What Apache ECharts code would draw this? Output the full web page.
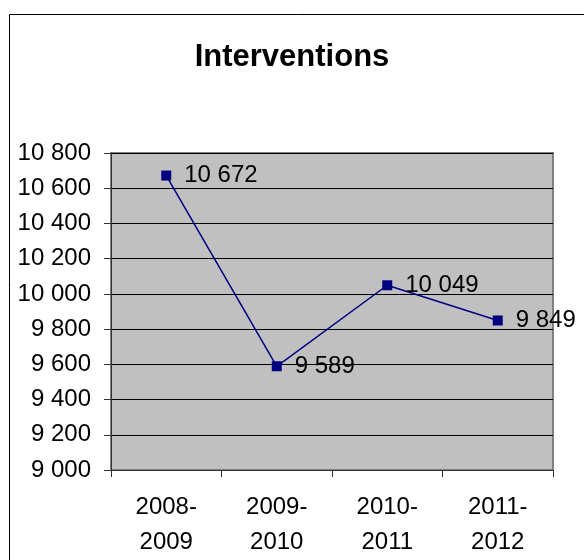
<!DOCTYPE html>
<html>
<head>
<meta charset="utf-8">
<script src="https://cdn.jsdelivr.net/npm/echarts@6/dist/echarts.min.js"></script>
<style>
  html, body { margin: 0; padding: 0; background: #fff; }
  #chart { width: 584px; height: 560px; }
</style>
</head>
<body>
<div id="chart"></div>
<script>
const categories = ['2008-\n2009', '2009-\n2010', '2010-\n2011', '2011-\n2012'];
const interventions = [10672, 9589, 10049, 9849];
const yMin = 9000;
const yMax = 10800;
const yStep = 200;

const fmt = function (v) {
  return String(v).replace(/\B(?=(\d{3})+(?!\d))/g, ' ');
};

const chart = echarts.init(document.getElementById('chart'));
const font = 'Liberation Sans, Arial, sans-serif';

const option = {
  animation: false,
  backgroundColor: '#fff',
  title: {
    text: 'Interventions',
    left: 'center',
    top: 37,
    textStyle: { fontFamily: font, fontSize: 31, fontWeight: 'bold', color: '#000' }
  },
  graphic: [
    {
      type: 'rect',
      shape: { x: 9.5, y: 14.5, width: 700, height: 700 },
      style: { fill: 'none', stroke: '#000', lineWidth: 1 },
      z: -1
    }
  ],
  grid: {
    left: 111,
    top: 153,
    right: 31,
    bottom: 87,
    show: true,
    backgroundColor: '#c0c0c0',
    borderColor: '#808080',
    borderWidth: 2
  },
  xAxis: {
    type: 'category',
    data: categories,
    boundaryGap: true,
    axisLine: { lineStyle: { color: '#333', width: 1 } },
    axisTick: { show: true, length: 7, lineStyle: { color: '#333' } },
    axisLabel: {
      fontFamily: font,
      fontSize: 24,
      color: '#000',
      lineHeight: 35,
      margin: 20
    }
  },
  yAxis: {
    type: 'value',
    min: yMin,
    max: yMax,
    interval: yStep,
    axisLine: { show: true, lineStyle: { color: '#333', width: 1 } },
    axisTick: { show: true, length: 7, lineStyle: { color: '#333' } },
    splitLine: { lineStyle: { color: '#000', width: 1 } },
    axisLabel: {
      fontFamily: font,
      fontSize: 24,
      color: '#000',
      margin: 20,
      formatter: fmt
    }
  },
  series: [
    {
      type: 'line',
      data: interventions,
      symbol: 'rect',
      symbolSize: 10,
      lineStyle: { color: '#000080', width: 1.5 },
      itemStyle: { color: '#000080' },
      label: {
        show: true,
        position: 'right',
        distance: 13,
        fontFamily: font,
        fontSize: 24,
        color: '#000',
        formatter: function (p) { return fmt(p.value); }
      }
    }
  ]
};

chart.setOption(option);
window.addEventListener('resize', function () {
  chart.resize();
});
</script>
</body>
</html>
